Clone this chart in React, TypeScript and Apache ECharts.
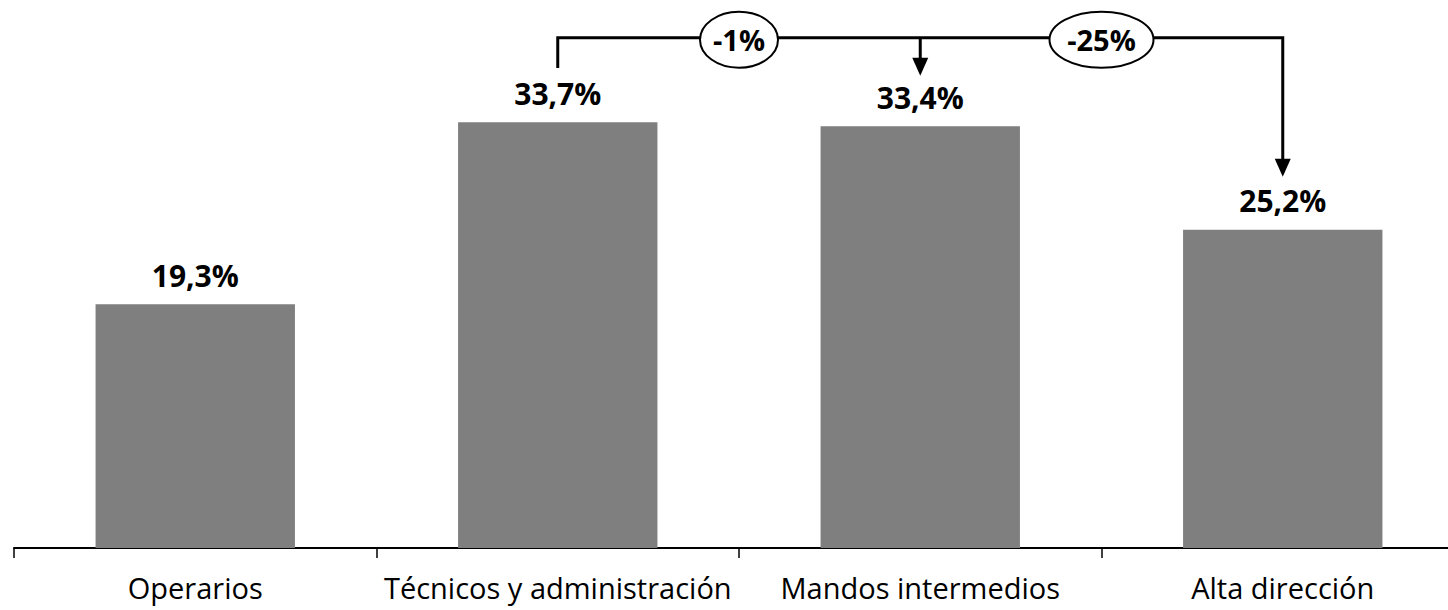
import React, { useEffect, useRef } from "react";
import * as echarts from "echarts";

const categories = ["Operarios", "Técnicos y administración", "Mandos intermedios", "Alta dirección"];
const values = [19.3, 33.7, 33.4, 25.2];
// annotation: comparison of bar 2 -> bar 3 and bar 3 -> bar 4
const changeLabels = ["-1%", "-25%"];
const bracketLevel = 40.4; // value level of horizontal connector
const bracketStartLevel = 38.0; // bottom of the vertical stub above bar 2
const arrowTipLevels = [37.4, 29.4]; // arrow tips above bar 3 and bar 4

const FONT = "'Open Sans', 'Noto Sans', sans-serif";

export default function App() {
  const ref = useRef<HTMLDivElement>(null);
  useEffect(() => {
    if (!ref.current) return;
    const chart = echarts.init(ref.current, null, { renderer: "svg" });
    const option: any = {
      animation: false,
      grid: { left: 14, right: 0, top: 42.8, bottom: 62, containLabel: false },
      xAxis: {
        type: "category",
        data: categories,
        axisLine: { show: true, lineStyle: { color: "#000", width: 2 } },
        axisTick: { show: true, length: 10, interval: 0, lineStyle: { color: "#000", width: 1.5 } },
        axisLabel: { interval: 0, color: "#000", fontFamily: FONT, fontSize: 29, margin: 24, lineHeight: 30 },
      },
      yAxis: {
        type: "value",
        min: 0,
        max: 40,
        show: false,
        splitLine: { show: false },
      },
      series: [
        {
          type: "bar",
          data: values,
          barWidth: "55%",
          itemStyle: { color: "#7f7f7f" },
          label: {
            show: true,
            position: "top",
            distance: 14,
            color: "#000",
            fontFamily: FONT,
            fontWeight: "bold",
            fontSize: 30,
            formatter: (p: any) => String(p.value).replace(".", ",") + "%",
          },
        },
      ],
    };
    chart.setOption(option);

    const px = (i: number, v: number) => chart.convertToPixel({ gridIndex: 0 }, [i, v]) as number[];
    const lineY = px(0, bracketLevel)[1];
    const x1 = px(1, 0)[0];
    const x2 = px(2, 0)[0];
    const x3 = px(3, 0)[0];
    const startY = px(1, bracketStartLevel)[1];
    const tip2 = px(2, arrowTipLevels[0])[1];
    const tip3 = px(3, arrowTipLevels[1])[1];
    const lineStyle = { stroke: "#000", lineWidth: 3, fill: "none" };
    const head = (x: number, y: number) => ({
      type: "polygon",
      shape: { points: [[x - 8, y - 18], [x + 8, y - 18], [x, y]] },
      style: { fill: "#000" },
    });
    const bubble = (cx: number, cy: number, rx: number, text: string) => [
      {
        type: "ellipse",
        shape: { cx, cy, rx, ry: 28 },
        style: { fill: "#fff", stroke: "#000", lineWidth: 2 },
        z: 10,
      },
      {
        type: "text",
        x: cx,
        y: cy,
        style: {
          text,
          fill: "#000",
          font: `bold 29px ${FONT}`,
          textAlign: "center",
          textVerticalAlign: "middle",
        },
        z: 11,
      },
    ];
    chart.setOption({
      graphic: [
        {
          type: "polyline",
          shape: { points: [[x1, startY], [x1, lineY], [x3, lineY], [x3, tip3 - 14]] },
          style: lineStyle,
        },
        {
          type: "line",
          shape: { x1: x2, y1: lineY, x2: x2, y2: tip2 - 14 },
          style: lineStyle,
        },
        head(x2, tip2),
        head(x3, tip3),
        ...bubble((x1 + x2) / 2, lineY + 2, 39, changeLabels[0]),
        ...bubble((x2 + x3) / 2, lineY + 2, 52, changeLabels[1]),
      ],
    });
    return () => chart.dispose();
  }, []);
  return (
    <div
      ref={ref}
      style={{ position: "fixed", left: 0, top: 0, width: 1464, height: 610, background: "#fff" }}
    />
  );
}
